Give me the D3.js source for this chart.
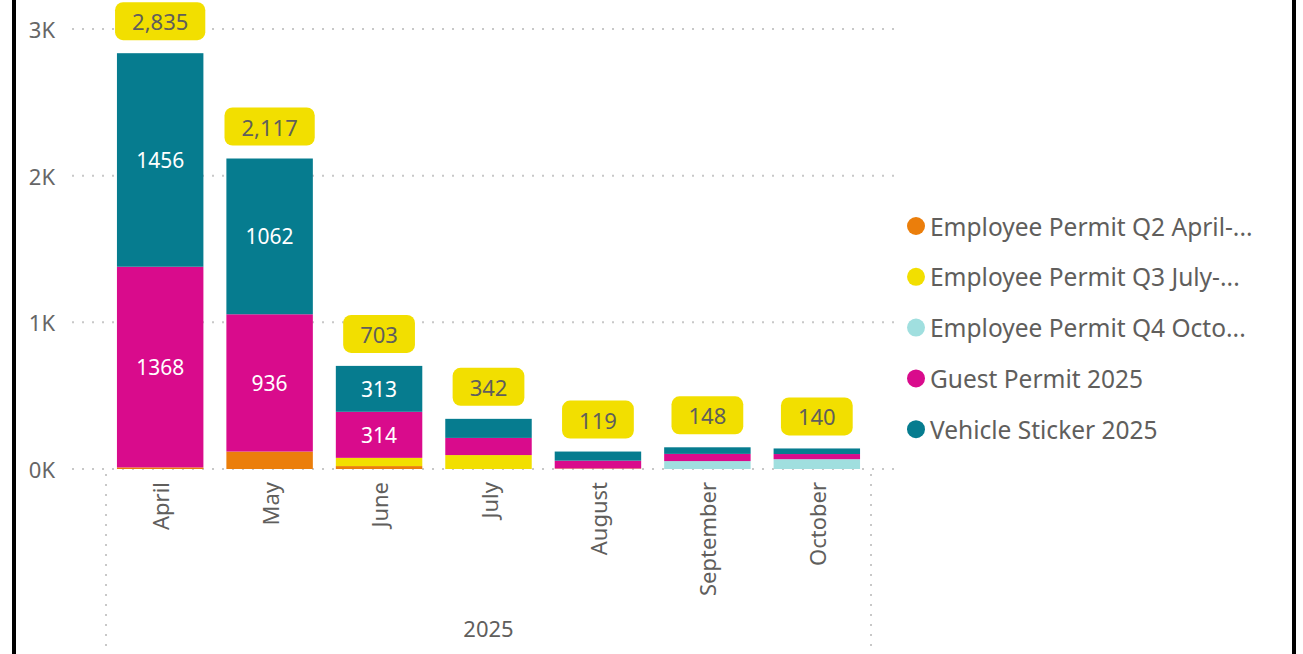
<!DOCTYPE html>
<html>
<head>
<meta charset="utf-8">
<script src="https://cdn.jsdelivr.net/npm/d3@7"></script>
<style>
  body { margin: 0; background: #fff; }
  svg { display: block; font-family: "Noto Sans", "Open Sans", sans-serif; }
</style>
</head>
<body>
<div id="chart"></div>
<script>
const months = ["April", "May", "June", "July", "August", "September", "October"];
const seriesNames = ["Employee Permit Q2 April-...", "Employee Permit Q3 July-...", "Employee Permit Q4 Octo...", "Guest Permit 2025", "Vehicle Sticker 2025"];
const seriesKeys = ["q2", "q3", "q4", "guest", "vehicle"];
const q2 = [11, 119, 20, 0, 0, 0, 0];
const q3 = [0, 0, 56, 95, 3, 0, 0];
const q4 = [0, 0, 0, 0, 0, 54, 67];
const guest = [1368, 936, 314, 117, 54, 49, 35];
const vehicle = [1456, 1062, 313, 130, 62, 45, 38];
const totals = [2835, 2117, 703, 342, 119, 148, 140];
const yTicks = [0, 1000, 2000, 3000];
const yearLabel = "2025";

const colors = ["#EB7E0B", "#F2DF00", "#A0DFDF", "#D90B8C", "#067C8F"];
const textGrey = "#605E5C";

const W = 1303, H = 654;
const svg = d3.select("#chart").append("svg")
  .attr("width", W).attr("height", H);

const table = months.map((m, i) => ({
  month: m, q2: q2[i], q3: q3[i], q4: q4[i], guest: guest[i], vehicle: vehicle[i]
}));
const stacked = d3.stack().keys(seriesKeys)(table);

const x = d3.scaleBand().domain(months).range([106, 871]).paddingInner(0.21).paddingOuter(0.1);
const y = d3.scaleLinear().domain([0, 3000]).range([469, 29]);

// gridlines
svg.append("g").selectAll("line")
  .data(yTicks).join("line")
  .attr("x1", 72).attr("x2", 895)
  .attr("y1", d => y(d)).attr("y2", d => y(d))
  .attr("stroke", "#C8C8C8").attr("stroke-width", 2)
  .attr("stroke-dasharray", "2,8");

// y tick labels
svg.append("g").selectAll("text")
  .data(yTicks).join("text")
  .attr("x", 55).attr("y", d => y(d))
  .attr("text-anchor", "end").attr("dominant-baseline", "central")
  .attr("fill", "#666").attr("font-size", 22)
  .text(d => (d / 1000) + "K");

// category frame lines
svg.append("g").selectAll("line")
  .data(x.range()).join("line")
  .attr("x1", d => d).attr("x2", d => d)
  .attr("y1", 474).attr("y2", H)
  .attr("stroke", "#C8C8C8").attr("stroke-width", 2)
  .attr("stroke-dasharray", "2,8");

// bars
const layers = svg.append("g").selectAll("g")
  .data(stacked).join("g")
  .attr("fill", (d, i) => colors[i]);

layers.selectAll("rect")
  .data(d => d).join("rect")
  .attr("x", d => x(d.data.month))
  .attr("width", x.bandwidth())
  .attr("y", d => y(d[1]))
  .attr("height", d => y(d[0]) - y(d[1]));

// segment labels
stacked.forEach(layer => {
  svg.append("g").selectAll("text")
    .data(layer.filter(d => y(d[0]) - y(d[1]) >= 30)).join("text")
    .attr("x", d => x(d.data.month) + x.bandwidth() / 2)
    .attr("y", d => (y(d[0]) + y(d[1])) / 2)
    .attr("text-anchor", "middle").attr("dominant-baseline", "central")
    .attr("fill", "#fff").attr("font-size", 21)
    .text(d => d[1] - d[0]);
});

// total labels
const fmt = d3.format(",");
const tot = svg.append("g").selectAll("g")
  .data(months.map((m, i) => ({ month: m, total: totals[i] }))).join("g")
  .attr("transform", d => `translate(${x(d.month) + x.bandwidth() / 2},${y(d.total) - 13 - 19})`);
tot.append("rect")
  .attr("rx", 8).attr("ry", 8)
  .attr("y", -19).attr("height", 38)
  .attr("fill", "#F2DF00");
tot.append("text")
  .attr("text-anchor", "middle").attr("dominant-baseline", "central")
  .attr("fill", textGrey).attr("font-size", 22)
  .text(d => fmt(d.total));
tot.each(function() {
  const g = d3.select(this);
  const w = g.select("text").node().getComputedTextLength() + 34;
  g.select("rect").attr("x", -w / 2).attr("width", w);
});

// month labels
svg.append("g").selectAll("text")
  .data(months).join("text")
  .attr("transform", d => `translate(${x(d) + x.bandwidth() / 2},482) rotate(-90)`)
  .attr("text-anchor", "end").attr("dominant-baseline", "central")
  .attr("fill", textGrey).attr("font-size", 22)
  .text(d => d);

svg.append("text")
  .attr("x", (x.range()[0] + x.range()[1]) / 2).attr("y", 628)
  .attr("text-anchor", "middle").attr("dominant-baseline", "central")
  .attr("fill", textGrey).attr("font-size", 22)
  .text(yearLabel);

// legend
const leg = svg.append("g").selectAll("g")
  .data(seriesNames).join("g")
  .attr("transform", (d, i) => `translate(916,${226 + i * 50.8})`);
leg.append("circle").attr("r", 9).attr("fill", (d, i) => colors[i]);
leg.append("text")
  .attr("x", 14).attr("dominant-baseline", "central")
  .attr("fill", textGrey).attr("font-size", 24.5)
  .text(d => d);

// frame borders
svg.append("rect").attr("x", 12).attr("y", 0).attr("width", 4).attr("height", H).attr("fill", "#000");
svg.append("rect").attr("x", 1292).attr("y", 0).attr("width", 4).attr("height", H).attr("fill", "#000");
</script>
</body>
</html>
